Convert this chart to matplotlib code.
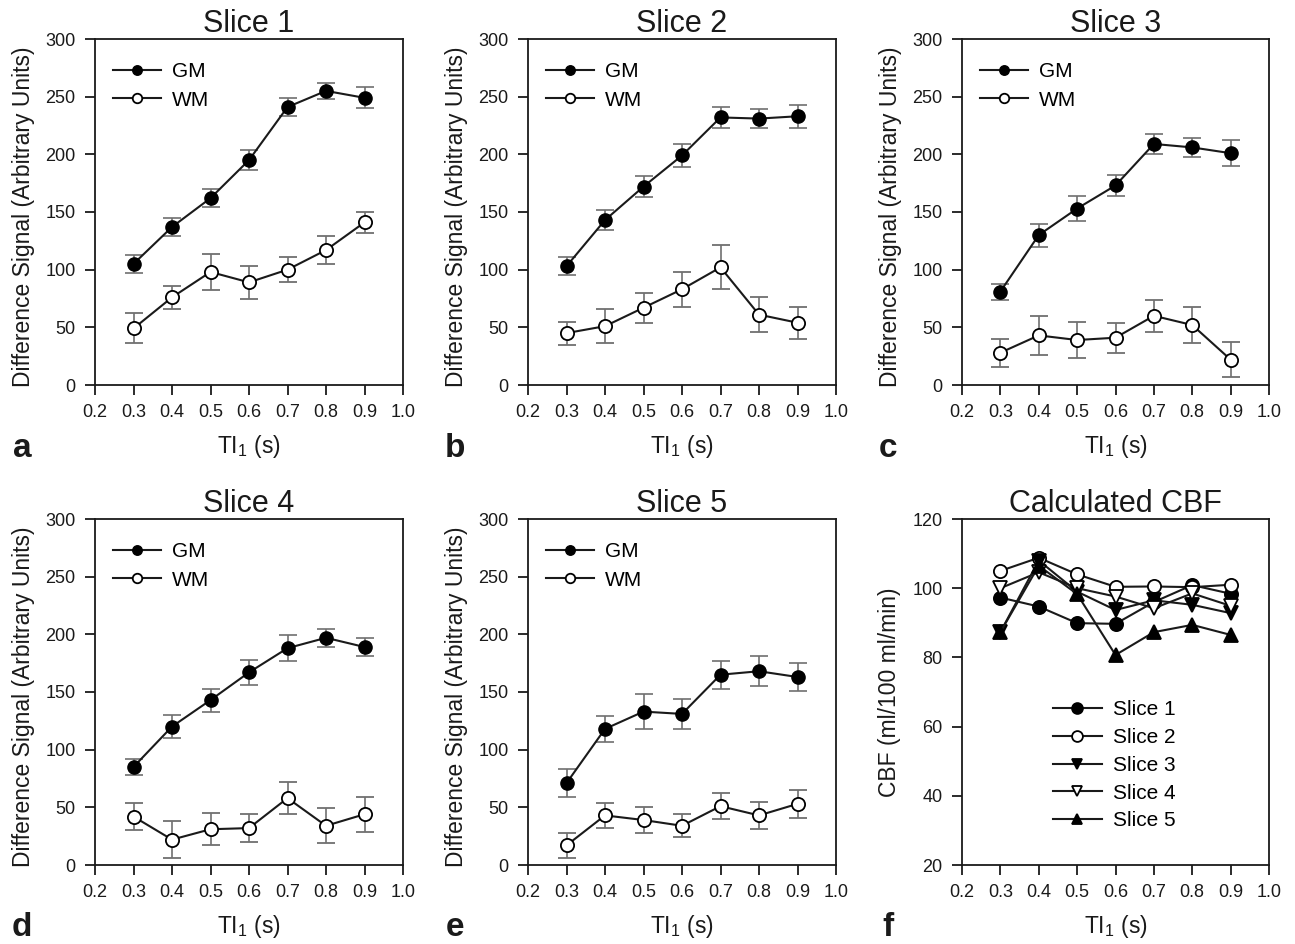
import matplotlib
matplotlib.use("Agg")
import matplotlib.pyplot as plt
import numpy as np

plt.rcParams['font.family'] = ['Liberation Sans', 'DejaVu Sans']

ti = [0.3, 0.4, 0.5, 0.6, 0.7, 0.8, 0.9]

# Difference signal panels (a-e)
gm1 = [105, 137, 162, 195, 241, 255, 249]
gm1_err = [8, 8, 8, 9, 8, 7, 9]
wm1 = [49, 76, 98, 89, 100, 117, 141]
wm1_err = [13, 10, 16, 14, 11, 12, 9]

gm2 = [103, 143, 172, 199, 232, 231, 233]
gm2_err = [8, 9, 9, 10, 9, 8, 10]
wm2 = [45, 51, 67, 83, 102, 61, 54]
wm2_err = [10, 15, 13, 15, 19, 15, 14]

gm3 = [81, 130, 153, 173, 209, 206, 201]
gm3_err = [7, 10, 11, 9, 9, 8, 11]
wm3 = [28, 43, 39, 41, 60, 52, 22]
wm3_err = [12, 17, 16, 13, 14, 16, 15]

gm4 = [85, 120, 143, 167, 188, 197, 189]
gm4_err = [7, 10, 10, 11, 11, 8, 8]
wm4 = [42, 22, 31, 32, 58, 34, 44]
wm4_err = [12, 16, 14, 12, 14, 15, 15]

gm5 = [71, 118, 133, 131, 165, 168, 163]
gm5_err = [12, 11, 15, 13, 12, 13, 12]
wm5 = [17, 43, 39, 34, 51, 43, 53]
wm5_err = [11, 11, 11, 10, 11, 12, 12]

# Calculated CBF (panel f)
cbf1 = [97.3, 94.7, 89.9, 89.7, 96.0, 100.9, 98.4]
cbf2 = [105.0, 108.8, 104.0, 100.4, 100.5, 100.3, 101.0]
cbf3 = [87.3, 108.0, 99.0, 93.7, 96.5, 95.2, 92.8]
cbf4 = [100.0, 104.6, 100.0, 97.6, 94.2, 98.5, 94.9]
cbf5 = [87.3, 106.5, 98.3, 80.7, 87.3, 89.4, 86.5]

slice_titles = ["Slice 1", "Slice 2", "Slice 3", "Slice 4", "Slice 5"]
panel_letters = ["a", "b", "c", "d", "e", "f"]
xticks = [0.2, 0.3, 0.4, 0.5, 0.6, 0.7, 0.8, 0.9, 1.0]

W, H = 1295, 944
fig = plt.figure(figsize=(W / 100, H / 100), dpi=100)

def ax_px(l, t, r, b):
    return fig.add_axes([l / W, 1 - b / H, (r - l) / W, (b - t) / H])

boxes = [(95, 39, 403, 385), (528, 39, 836, 385), (962, 39, 1269, 385),
         (95, 519, 403, 865), (528, 519, 836, 865), (962, 519, 1269, 865)]

data = [(gm1, gm1_err, wm1, wm1_err), (gm2, gm2_err, wm2, wm2_err),
        (gm3, gm3_err, wm3, wm3_err), (gm4, gm4_err, wm4, wm4_err),
        (gm5, gm5_err, wm5, wm5_err)]

INK = '#1a1a1a'

def style(ax, ylabel):
    ax.set_xlim(0.2, 1.0)
    ax.set_xticks(xticks)
    ax.set_xticklabels([f"{v:.1f}" for v in xticks])
    ax.tick_params(direction='out', length=7.5, width=1.3, labelsize=13,
                   colors=INK, pad=6.5)
    for s in ax.spines.values():
        s.set_linewidth(1.3)
        s.set_color(INK)
    ax.set_xlabel('TI$_\\mathregular{1}$ (s)', fontsize=16.5, color=INK)
    ax.xaxis.set_label_coords(0.5, -0.138)
    ax.set_ylabel(ylabel, fontsize=16.5, color=INK)
    ax.yaxis.set_label_coords(-0.196, 0.485)

for i, (gm, gme, wm, wme) in enumerate(data):
    ax = ax_px(*boxes[i])
    ax.errorbar(ti, gm, yerr=gme, color=INK, ecolor='#707070', elinewidth=1.2,
                capsize=6.5, capthick=1.2, lw=1.5, marker='o', ms=9.5,
                mfc='black', mec='black', label='GM', zorder=3)
    ax.errorbar(ti, wm, yerr=wme, color=INK, ecolor='#707070', elinewidth=1.2,
                capsize=6.5, capthick=1.2, lw=1.5, marker='o', ms=9.5,
                mfc='white', mec='black', mew=1.3, label='WM', zorder=3)
    ax.set_ylim(0, 300)
    ax.set_yticks([0, 50, 100, 150, 200, 250, 300])
    style(ax, 'Difference Signal (Arbitrary Units)')
    ax.set_title(slice_titles[i], fontsize=22, pad=4, color=INK)
    handles, labels = ax.get_legend_handles_labels()
    handles = [h[0] for h in handles]
    ax.legend(handles, labels, loc='upper left', frameon=False, fontsize=15,
              handlelength=2.3, handletextpad=0.55, borderpad=0,
              borderaxespad=0, labelspacing=0.45, markerscale=0.72,
              bbox_to_anchor=(0.058, 0.933))

# Panel f
ax = ax_px(*boxes[5])
series = [(cbf1, 'o', 'black', 'Slice 1'), (cbf2, 'o', 'white', 'Slice 2'),
          (cbf3, 'v', 'black', 'Slice 3'), (cbf4, 'v', 'white', 'Slice 4'),
          (cbf5, '^', 'black', 'Slice 5')]
for vals, m, fc, lab in series:
    ax.plot(ti, vals, color=INK, lw=1.5, marker=m, ms=9.5, mfc=fc,
            mec='black', mew=1.3, label=lab, zorder=3)
ax.set_ylim(20, 120)
ax.set_yticks([20, 40, 60, 80, 100, 120])
style(ax, 'CBF (ml/100 ml/min)')
ax.yaxis.set_label_coords(-0.2, 0.5)
ax.set_title('Calculated CBF', fontsize=22, pad=4, color=INK)
ax.legend(loc='upper left', bbox_to_anchor=(0.296, 0.476), frameon=False,
          fontsize=15, handlelength=2.35, handletextpad=0.55, borderpad=0,
          borderaxespad=0, labelspacing=0.42, markerscale=0.82)

# panel letters
letter_pos = [(22, 457), (455, 457), (888, 457), (22, 936), (455, 936), (888, 936)]
for (x, y), L in zip(letter_pos, panel_letters):
    fig.text(x / W, 1 - y / H, L, fontsize=24, fontweight='bold',
             ha='center', va='baseline', color=INK)

fig.savefig('out.png', dpi=100)
